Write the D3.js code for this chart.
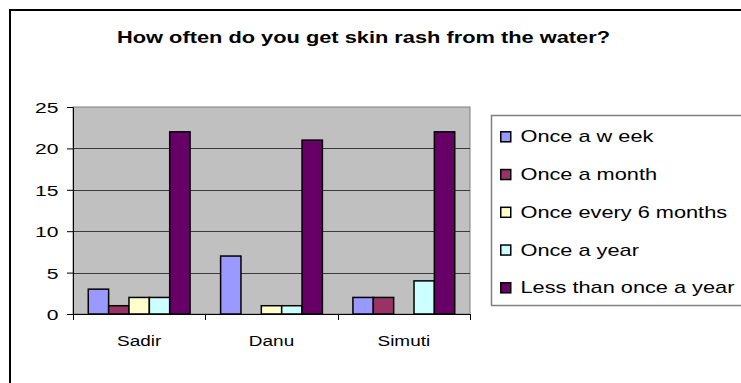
<!DOCTYPE html>
<html>
<head>
<meta charset="utf-8">
<script src="https://cdn.jsdelivr.net/npm/d3@7"></script>
<style>
  html, body { margin: 0; padding: 0; background: #fff; }
  svg { display: block; font-family: "Liberation Sans", Arial, sans-serif; }
</style>
</head>
<body>
<svg id="chart" width="741" height="383"></svg>
<script>
// Survey answers per village
const categories = ["Sadir", "Danu", "Simuti"];
const seriesNames = ["Once a w eek", "Once a month", "Once every 6 months", "Once a year", "Less than once a year"];
const seriesColors = ["#9999FF", "#993366", "#FFFFCC", "#CCFFFF", "#660066"];
const onceAWeek = [3, 7, 2];
const onceAMonth = [1, 0, 2];
const onceEvery6Months = [2, 1, 0];
const onceAYear = [2, 1, 4];
const lessThanOnceAYear = [22, 21, 22];
const yTicks = [0, 5, 10, 15, 20, 25];
const titleText = "How often do you get skin rash from the water?";

const seriesValues = [onceAWeek, onceAMonth, onceEvery6Months, onceAYear, lessThanOnceAYear];

// body text is drawn slightly widened, like the spreadsheet renderer does
const WIDE = 1.36;

const svg = d3.select("#chart");

// outer chart frame
svg.append("rect")
  .attr("x", 10).attr("y", 10).attr("width", 760).attr("height", 400)
  .attr("fill", "#fff").attr("stroke", "#000").attr("stroke-width", 2);

// title, stretched to its full width
svg.append("text")
  .attr("x", 363.5).attr("y", 43)
  .attr("text-anchor", "middle")
  .attr("font-size", 17).attr("font-weight", "bold")
  .attr("textLength", 493).attr("lengthAdjust", "spacingAndGlyphs")
  .attr("fill", "#000")
  .text(titleText);

const plot = { left: 73, right: 470, top: 107, bottom: 314 };

const x = d3.scaleBand().domain(categories).range([plot.left, plot.right]).padding(0);
const xs = d3.scaleBand().domain(d3.range(seriesNames.length))
  .range([0, x.bandwidth()]).paddingInner(0).paddingOuter(0.75);
const y = d3.scaleLinear().domain([0, 25]).range([plot.bottom, plot.top]);

// plot area background
svg.append("rect")
  .attr("x", plot.left).attr("y", plot.top)
  .attr("width", plot.right - plot.left).attr("height", plot.bottom - plot.top)
  .attr("fill", "#C0C0C0").attr("stroke", "#808080").attr("stroke-width", 1);

// horizontal gridlines
svg.append("g").selectAll("line")
  .data(yTicks.filter(t => t > 0 && t < 25))
  .join("line")
  .attr("x1", plot.left).attr("x2", plot.right)
  .attr("y1", d => Math.round(y(d)) + 0.5).attr("y2", d => Math.round(y(d)) + 0.5)
  .attr("stroke", "#3a3a3a").attr("stroke-width", 1);

// bars
const groups = svg.append("g").selectAll("g")
  .data(categories)
  .join("g")
  .attr("transform", d => `translate(${x(d)},0)`);

groups.selectAll("rect")
  .data((c, ci) => seriesValues.map((vals, si) => ({ si, v: vals[ci] })))
  .join("rect")
  .attr("x", d => xs(d.si))
  .attr("y", d => y(d.v))
  .attr("width", xs.bandwidth())
  .attr("height", d => y(0) - y(d.v))
  .attr("fill", d => seriesColors[d.si])
  .attr("stroke", "#000").attr("stroke-width", 1.5)
  .style("display", d => d.v > 0 ? null : "none");

// y axis
const yAxis = d3.axisLeft(y).tickValues(yTicks).tickSize(6).tickPadding(8).tickFormat(d3.format("d"));
const yg = svg.append("g").attr("transform", `translate(${plot.left},0)`).call(yAxis);
yg.select(".domain").attr("stroke", "#000");
yg.selectAll(".tick line").attr("stroke", "#000");
yg.selectAll(".tick text")
  .attr("font-size", 15.5).attr("font-family", "Liberation Sans, Arial, sans-serif").attr("fill", "#000")
  .attr("x", 0).attr("dy", "0.36em")
  .attr("transform", `translate(-14.5,0) scale(${WIDE},1)`);

// x axis with ticks at category boundaries
const xg = svg.append("g").attr("transform", `translate(0,${plot.bottom})`);
xg.append("line").attr("x1", plot.left).attr("x2", plot.right).attr("y1", 0.5).attr("y2", 0.5).attr("stroke", "#000");
xg.selectAll("line.bt")
  .data(categories.map(c => x(c)).concat([plot.right]))
  .join("line").attr("class", "bt")
  .attr("x1", d => Math.round(d) + 0.5).attr("x2", d => Math.round(d) + 0.5)
  .attr("y1", 0).attr("y2", 6).attr("stroke", "#000");
xg.selectAll("text")
  .data(categories)
  .join("text")
  .attr("transform", d => `translate(${x(d) + x.bandwidth() / 2},32) scale(${WIDE * 0.9},1)`)
  .attr("text-anchor", "middle")
  .attr("font-size", 15.5).attr("fill", "#000")
  .text(d => d);

// legend
const legend = svg.append("g");
legend.append("rect")
  .attr("x", 491.5).attr("y", 115.5).attr("width", 300).attr("height", 190)
  .attr("fill", "#fff").attr("stroke", "#808080").attr("stroke-width", 1.5);
const items = legend.selectAll("g.item")
  .data(seriesNames)
  .join("g").attr("class", "item")
  .attr("transform", (d, i) => `translate(0,${142.3 + i * 37.75})`);
items.append("rect")
  .attr("x", 500.75).attr("y", -10.5).attr("width", 10).attr("height", 10)
  .attr("fill", (d, i) => seriesColors[i]).attr("stroke", "#000").attr("stroke-width", 1.5);
items.append("text")
  .attr("transform", `translate(520.5,0) scale(${WIDE},1)`)
  .attr("font-size", 16).attr("fill", "#000")
  .text(d => d);
</script>
</body>
</html>
